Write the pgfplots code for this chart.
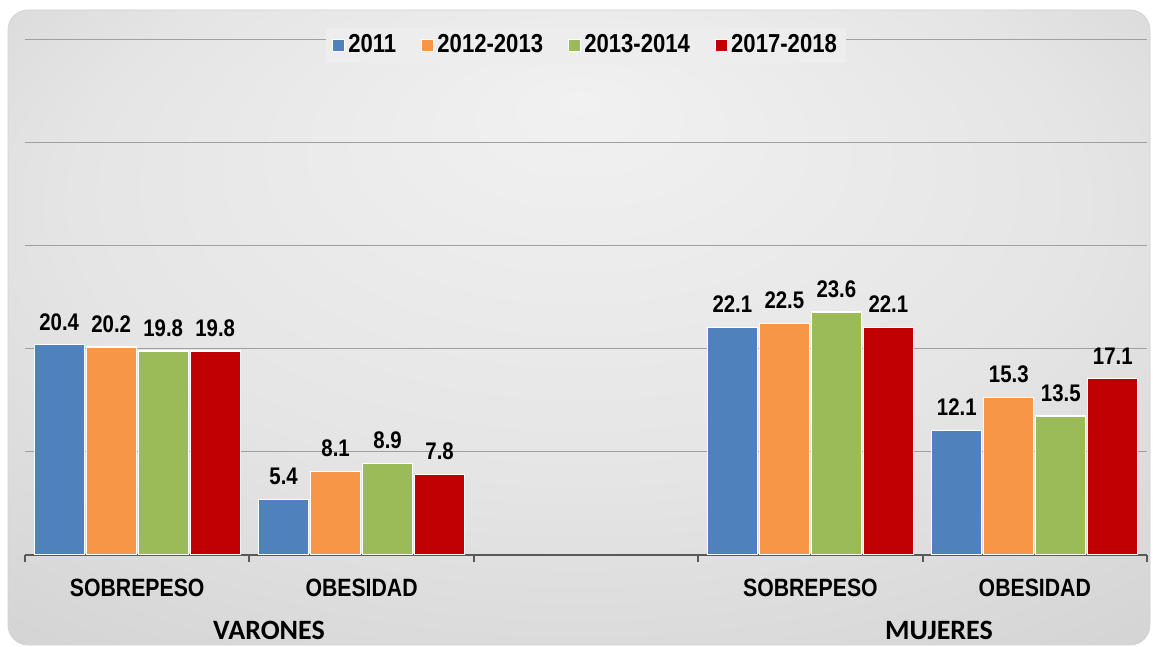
\documentclass[border=0pt]{standalone}
\usepackage{pgfplots}
\pgfplotsset{compat=1.18}
\usepackage{fontspec}
\setmainfont{Liberation Sans}
\newfontfamily\narrowfont[FakeStretch=0.85]{Liberation Sans}
\newfontfamily\calfont{Carlito}
\definecolor{cBlue}{HTML}{4F81BD}
\definecolor{cOrange}{HTML}{F79646}
\definecolor{cGreen}{HTML}{9BBB59}
\definecolor{cRed}{HTML}{C00000}
\definecolor{axisgray}{HTML}{595959}
\definecolor{gridgray}{HTML}{A0A0A0}
\definecolor{bgA}{HTML}{F1F1F1}
\definecolor{bgB}{HTML}{E5E5E5}
\definecolor{bgC}{HTML}{CACACA}
\definecolor{legbg}{HTML}{EDEDED}
\pgfdeclareradialshading{bgshade}{\pgfpoint{0bp}{18bp}}{color(0bp)=(bgA); color(22bp)=(bgB); color(48bp)=(bgC); color(50bp)=(bgC)}

\pgfplotstableread{
x y
0 20.4
1 5.4
3 22.1
4 12.1
}\tA
\pgfplotstableread{
x y
0 20.2
1 8.1
3 22.5
4 15.3
}\tB
\pgfplotstableread{
x y
0 19.8
1 8.9
3 23.6
4 13.5
}\tC
\pgfplotstableread{
x y
0 19.8
1 7.8
3 22.1
4 17.1
}\tD

\begin{document}
\begin{tikzpicture}[x=1pt,y=1pt]
\useasboundingbox (0,0) rectangle (576.5,323.5);
\shade[shading=bgshade, rounded corners=10pt] (4,1) rectangle (575,318.5);
\draw[gray!35, rounded corners=10pt, line width=0.4pt] (4,1) rectangle (575,318.5);
\begin{axis}[
  at={(12.5pt,46pt)}, anchor=south west,
  scale only axis, width=561pt, height=257.5pt,
  xmin=-0.5, xmax=4.5, ymin=0, ymax=50,
  enlargelimits=false,
  axis x line*=bottom,
  x axis line style={draw=axisgray, line width=1pt},
  y axis line style={draw=none},
  ymajorgrids, ytick={10,20,30,40,50}, yticklabels={},
  ytick style={draw=none},
  major grid style={draw=gridgray, line width=0.5pt},
  xtick={0,1,3,4},
  xticklabels={SOBREPESO,OBESIDAD,SOBREPESO,OBESIDAD},
  minor xtick={-0.5,0.5,1.5,2.5,3.5,4.5},
  major tick length=0pt, minor tick length=3.5pt, tick align=outside,
  minor x tick style={draw=axisgray, line width=1pt},
  xticklabel style={font=\narrowfont\bfseries\fontsize{12.5}{14}\selectfont, text=black, yshift=-8.5pt},
  ybar=1pt, bar width=25pt,
  nodes near coords,
  every node near coord/.append style={font=\narrowfont\bfseries\fontsize{12}{14}\selectfont, text=black, inner sep=0pt, yshift=7pt},
  /pgf/number format/.cd, fixed, fixed zerofill, precision=1, assume math mode=true,
  /pgfplots/.cd,
  legend style={at={(0.5,0.99)}, anchor=center, legend columns=4, draw=none, fill=legbg,
    font=\narrowfont\bfseries\fontsize{13}{15}\selectfont,
    /tikz/every even column/.append style={column sep=11pt},
    nodes={inner sep=1.5pt}},
  legend image code/.code={\fill[#1] (0pt,-3pt) rectangle (6pt,3pt);},
]
\addplot[fill=cBlue, draw=white, line width=0.6pt] table {\tA};
\addlegendentry{2011}
\addplot[fill=cOrange, draw=white, line width=0.6pt] table {\tB};
\addlegendentry{2012-2013}
\addplot[fill=cGreen, draw=white, line width=0.6pt] table {\tC};
\addlegendentry{2013-2014}
\addplot[fill=cRed, draw=white, line width=0.6pt] table {\tD};
\addlegendentry{2017-2018}
\end{axis}
\node[font=\calfont\bfseries\fontsize{14}{16}\selectfont] at (134.5,8.5) {VARONES};
\node[font=\calfont\bfseries\fontsize{14}{16}\selectfont] at (469.5,8.5) {MUJERES};
\end{tikzpicture}
\end{document}
